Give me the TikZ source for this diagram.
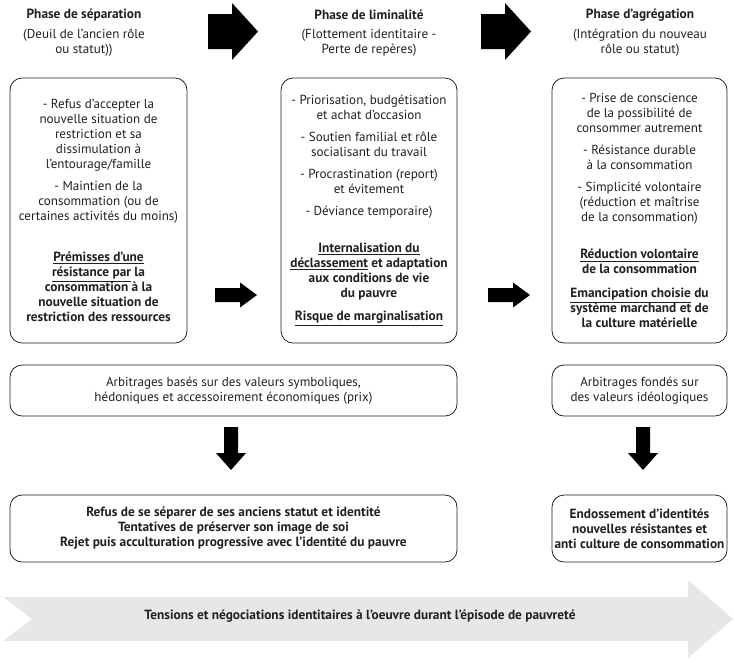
\documentclass[tikz,border=0pt]{standalone}
\usepackage{fontspec}
\setmainfont{PT Sans}
\usetikzlibrary{positioning}
\definecolor{ink}{HTML}{231F20}
\definecolor{bandgray}{HTML}{E6E7E8}
\newcommand{\txt}{\fontsize{9.8}{11.25}\selectfont}
\newcommand{\btxt}{\fontsize{10}{11.25}\selectfont\bfseries}
\newcommand{\bt}[1]{{\btxt #1}}

\tikzset{
  phasetitle/.style={text=ink, font=\btxt, inner sep=0pt},
  phasesub/.style={text=ink, font=\txt, align=center, inner sep=0pt},
  box/.style={draw=ink, line width=0.6pt, rounded corners=9pt, align=center,
    text=ink, font=\txt, inner sep=0pt},
  bigarrow/.pic={\fill[black] (0,-17.5) -- (24,-17.5) -- (24,-28.5) -- (50,0)
    -- (24,28.5) -- (24,17.5) -- (0,17.5) -- cycle;},
  smallarrow/.pic={\fill[black] (0,-7) -- (25,-7) -- (25,-12.5) -- (42,0)
    -- (25,12.5) -- (25,7) -- (0,7) -- cycle;},
  downarrow/.pic={\fill[black] (0,-7) -- (26,-7) -- (26,-15) -- (43,0)
    -- (26,15) -- (26,7) -- (0,7) -- cycle;},
}

\begin{document}
\begin{tikzpicture}[x=0.75pt, y=-0.75pt]
  \useasboundingbox (0,0) rectangle (734,662);

  % headers
  \node[phasetitle] (sep) at (84,15) {Phase de séparation};
  \node[phasesub] (sepsub) at (84,42.5) {(Deuil de l'ancien rôle\\ou statut))};
  \node[phasetitle] (lim) at (369,15) {Phase de liminalité};
  \node[phasesub] (limsub) at (369,42.5) {(Flottement identitaire -\\Perte de repères)};
  \node[phasetitle] (agr) at (640,15) {Phase d'agrégation};
  \node[phasesub] (agrsub) at (640,42.5) {(Intégration du nouveau\\rôle ou statut)};

  \pic at (208,31.5) {bigarrow};
  \pic at (481,31.5) {bigarrow};

  % phase boxes
  \node[box, minimum width=177*0.75pt, minimum height=265*0.75pt] (sepbox) at (98.5,210.5) {%
    - Refus d’accepter la\\nouvelle situation de\\restriction et sa\\dissimulation à\\l’entourage/famille\\[5.25pt]
    - Maintien de la\\consommation (ou de\\certaines activités du moins)\\[19.5pt]
    \bt{\underline{Prémisses d’une}}\\\bt{\underline{résistance par} la}\\\bt{consommation à la}\\
    \bt{nouvelle situation de}\\\bt{restriction des ressources}};
  \node[box, minimum width=176*0.75pt, minimum height=265*0.75pt] (limbox) at (369,210.5) {%
    - Priorisation, budgétisation\\et achat d’occasion\\[5.25pt]
    - Soutien familial et rôle\\socialisant du travail\\[5.25pt]
    - Procrastination (report)\\et évitement\\[5.25pt]
    - Déviance temporaire)\\[16.5pt]
    \bt{\underline{Internalisation du}}\\\bt{\underline{déclassement} et adaptation}\\
    \bt{aux conditions de vie}\\\bt{du pauvre}\\[6pt]
    \bt{\underline{Risque de marginalisation}}};
  \node[box, minimum width=175*0.75pt, minimum height=265*0.75pt] (agrbox) at (639.5,210.5) {%
    - Prise de conscience\\de la possibilité de\\consommer autrement\\[5.25pt]
    - Résistance durable\\à la consommation\\[5.25pt]
    - Simplicité volontaire\\(réduction et maîtrise\\de la consommation)\\[17pt]
    \bt{\underline{Réduction volontaire}}\\\bt{de la consommation}\\[6.75pt]
    \bt{\underline{Emancipation choisie} du}\\\bt{système marchand et de}\\\bt{la culture matérielle}};

  \pic at (215,295) {smallarrow};
  \pic at (488,295) {smallarrow};

  % arbitrages
  \node[box, minimum width=447*0.75pt, minimum height=51*0.75pt] (arbsym) at (233.5,390.5)
    {Arbitrages basés sur des valeurs symboliques,\\hédoniques et accessoirement économiques (prix)};
  \node[box, minimum width=175*0.75pt, minimum height=51*0.75pt] (arbideo) at (639.5,390.5)
    {Arbitrages fondés sur\\des valeurs idéologiques};

  \pic[rotate=-90] at (231,427) {downarrow};
  \pic[rotate=-90] at (643,427) {downarrow};

  % identities
  \node[box, font=\btxt, minimum width=447*0.75pt, minimum height=67*0.75pt] (refus) at (233.5,528.5)
    {Refus de se séparer de ses anciens statut et identité\\Tentatives de préserver son image de soi\\
    Rejet puis acculturation progressive avec l’identité du pauvre};
  \node[box, font=\btxt, minimum width=175*0.75pt, minimum height=67*0.75pt] (endos) at (639.5,528.5)
    {Endossement d’identités\\nouvelles résistantes et\\anti culture de consommation};

  % band
  \fill[bandgray] (3,597) -- (688,597) -- (688,580) -- (733,619) -- (688,658)
    -- (688,641) -- (3,641) -- (32,619) -- cycle;
  \node[text=ink, font=\btxt, inner sep=0pt] (tension) at (360,616)
    {Tensions et négociations identitaires à l’oeuvre durant l’épisode de pauvreté};
\end{tikzpicture}
\end{document}
